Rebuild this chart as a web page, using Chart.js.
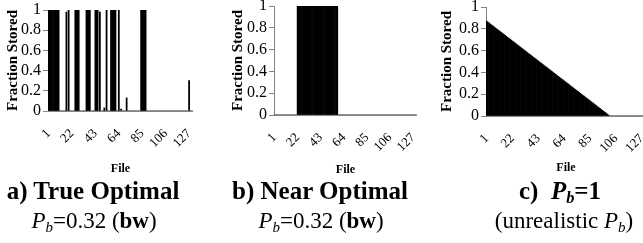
<!DOCTYPE html>
<html lang="en">
<head>
<meta charset="UTF-8" />
<title>Fraction Stored per File</title>
<script src="https://cdn.jsdelivr.net/npm/chart.js"></script>
<style>
  body { margin: 0; width: 643px; height: 243px; overflow: hidden; background: #fff; position: relative; font-family: "Liberation Serif", "Times New Roman", serif; }
  canvas { position: absolute; top: 0; }
  #chartA { left: 0; }
  #chartB { left: 225px; }
  #chartC { left: 434px; }
  .cap { position: absolute; width: 240px; text-align: center; color: #000; white-space: nowrap; }
  .cap1 { font-size: 25px; font-weight: bold; top: 177px; line-height: 28px; }
  .cap2 { font-size: 23px; top: 208px; line-height: 26px; }
  sub { font-size: 65%; vertical-align: -0.25em; }
</style>
</head>
<body>
  <canvas id="chartA" width="193" height="180"></canvas>
  <canvas id="chartB" width="192" height="181"></canvas>
  <canvas id="chartC" width="212" height="179"></canvas>

  <div class="cap cap1" style="left:-27px">a) True Optimal</div>
  <div class="cap cap2" style="left:-26px"><i>P<sub>b</sub></i>=0.32 (<b>bw</b>)</div>
  <div class="cap cap1" style="left:200px">b) Near Optimal</div>
  <div class="cap cap2" style="left:201px"><i>P<sub>b</sub></i>=0.32 (<b>bw</b>)</div>
  <div class="cap cap1" style="left:440px">c)&nbsp; <i>P<sub>b</sub></i>=1</div>
  <div class="cap cap2" style="left:444px">(unrealistic <i>P<sub>b</sub></i>)</div>

<script>
  const FILE_COUNT = 130;
  const TICK_EVERY = 21;

  // a) true optimal: files that get stored, and the fraction stored
  const trueOptFiles  = [1, 2, 3, 4, 5, 6, 7, 8, 9, 10, 17, 19, 25, 26, 27, 28, 35, 36, 37, 38,
                         43, 44, 45, 47, 51, 53, 57, 58, 59, 60, 61, 64, 66, 71, 84, 85, 86, 87, 88, 127];
  const trueOptStored = [1, 1, 1, 1, 1, 1, 1, 1, 1, 1, 0.98, 1, 1, 1, 1, 1, 1, 1, 1, 1,
                         1, 1, 1, 0.98, 0.03, 1, 1, 1, 1, 1, 1, 1, 0.02, 0.13, 1, 1, 1, 1, 1, 0.30];

  // b) near optimal
  const nearOptFiles  = [22, 23, 24, 25, 26, 27, 28, 29, 30, 31, 32, 33, 34, 35, 36, 37, 38, 39, 40,
                         41, 42, 43, 44, 45, 46, 47, 48, 49, 50, 51, 52, 53, 54, 55, 56, 57, 58];
  const nearOptStored = [1, 1, 1, 1, 1, 1, 1, 1, 1, 1, 1, 1, 1, 1, 1, 1, 1, 1, 1,
                         1, 1, 1, 1, 1, 1, 1, 1, 1, 1, 1, 1, 1, 1, 1, 1, 1, 1];

  // c) Pb = 1, files 1..100 (rest are 0)
  const pb1Stored = [
    0.870, 0.861, 0.853, 0.844, 0.835, 0.827, 0.818, 0.809, 0.800, 0.792,
    0.783, 0.774, 0.766, 0.757, 0.748, 0.740, 0.731, 0.722, 0.713, 0.705,
    0.696, 0.687, 0.679, 0.670, 0.661, 0.653, 0.644, 0.635, 0.626, 0.618,
    0.609, 0.600, 0.592, 0.583, 0.574, 0.566, 0.557, 0.548, 0.539, 0.531,
    0.522, 0.513, 0.505, 0.496, 0.487, 0.479, 0.470, 0.461, 0.452, 0.444,
    0.435, 0.426, 0.418, 0.409, 0.400, 0.392, 0.383, 0.374, 0.365, 0.357,
    0.348, 0.339, 0.331, 0.322, 0.313, 0.305, 0.296, 0.287, 0.278, 0.270,
    0.261, 0.252, 0.244, 0.235, 0.226, 0.218, 0.209, 0.200, 0.191, 0.183,
    0.174, 0.165, 0.157, 0.148, 0.139, 0.131, 0.122, 0.113, 0.104, 0.096,
    0.087, 0.078, 0.070, 0.061, 0.052, 0.044, 0.035, 0.026, 0.017, 0.009
  ];

  const fileLabels = Array.from({ length: FILE_COUNT }, (_, i) => String(i + 1));

  function spread(files, vals) {
    const out = new Array(FILE_COUNT).fill(0);
    files.forEach((f, i) => { out[f - 1] = vals[i]; });
    return out;
  }

  const AXIS_GREY = '#858585';
  const SERIF = '"Liberation Serif", "Times New Roman", serif';

  function makeChart(id, values, o) {
    return new Chart(document.getElementById(id), {
      type: 'bar',
      data: {
        labels: fileLabels,
        datasets: [{
          data: values,
          backgroundColor: '#000',
          borderWidth: 0,
          barPercentage: 1,
          categoryPercentage: 1
        }]
      },
      options: {
        responsive: false,
        animation: false,
        devicePixelRatio: 1,
        layout: { padding: { top: o.top, left: 0, right: 0, bottom: 0 } },
        plugins: { legend: { display: false }, tooltip: { enabled: false } },
        scales: {
          x: {
            grid: { display: false },
            border: { color: AXIS_GREY, width: 1 },
            ticks: {
              autoSkip: false,
              minRotation: 45,
              maxRotation: 45,
              padding: 7,
              color: '#000',
              font: { family: SERIF, size: 13 },
              callback: (v, i) => (i % TICK_EVERY === 0 ? fileLabels[i] : '')
            },
            title: {
              display: true,
              text: 'File',
              color: '#000',
              padding: { top: 0, bottom: 4 },
              font: { family: SERIF, size: 12, weight: 'bold' }
            },
            afterFit: s => { s.height = o.xHeight; s.paddingLeft = 0; s.paddingRight = 0; }
          },
          y: {
            min: 0,
            max: 1,
            ticks: {
              stepSize: 0.2,
              autoSkip: false,
              padding: 2,
              color: '#000',
              font: { family: SERIF, size: 16 },
              callback: v => String(Math.round(v * 10) / 10)
            },
            grid: { drawOnChartArea: false, drawTicks: true, tickLength: 5, color: AXIS_GREY },
            border: { color: AXIS_GREY, width: 1 },
            title: {
              display: true,
              text: 'Fraction Stored',
              color: '#000',
              padding: 4,
              font: { family: SERIF, size: 15, weight: 'bold' }
            },
            afterFit: s => { s.width = o.yWidth; s.paddingTop = 0; s.paddingBottom = 0; }
          }
        }
      }
    });
  }

  makeChart('chartA', spread(trueOptFiles, trueOptStored), { yWidth: 48, top: 10, xHeight: 69 });
  makeChart('chartB', spread(nearOptFiles, nearOptStored), { yWidth: 49, top: 6, xHeight: 66 });
  makeChart('chartC', pb1Stored.concat(new Array(FILE_COUNT - pb1Stored.length).fill(0)),
            { yWidth: 52, top: 7, xHeight: 63 });
</script>
</body>
</html>
